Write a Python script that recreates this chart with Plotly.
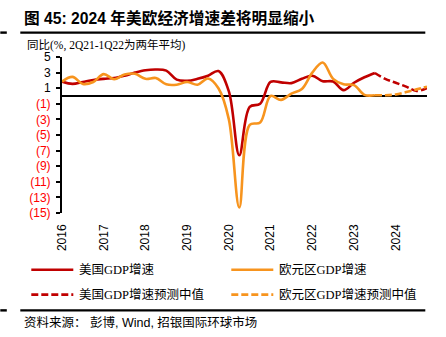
import plotly.graph_objects as go

# Quarterly axis: 2016Q1 ... 2024Q4
quarters = [f"{y}Q{q}" for y in range(2016, 2025) for q in range(1, 5)]
xpos = [int(s[:4]) + (int(s[-1]) - 1) / 4 for s in quarters]

# YoY growth, % (2Q21-1Q22 shown as two-year average)
us_actual = [1.85, 1.55, 1.8, 2.05, 2.2, 2.3, 2.6, 3.0, 3.3, 3.4, 3.25, 2.1,
             1.95, 2.2, 2.6, 3.2, 0.6, -7.6, -1.4, -1.0, 1.8, 1.75, 1.65, 2.2,
             2.6, 1.9, 1.85, 0.75, 1.7, 2.4, 2.95]
ez_actual = [1.85, 2.45, 1.55, 1.8, 2.8, 2.15, 2.75, 2.85, 2.2, 2.3, 1.5, 1.45,
             1.8, 1.45, 2.25, 1.0, -3.0, -14.3, -3.7, -3.4, 0.0, -0.5, 0.3, 0.9,
             3.0, 4.3, 2.2, 1.5, 1.4, 0.15, 0.1]
# Consensus median forecasts, 2023Q3 (last actual) to 2024Q4
us_forecast = [2.95, 2.2, 1.7, 1.2, 0.65, 1.0]
ez_forecast = [0.1, 0.1, 0.2, 0.5, 0.85, 1.2]

y_ticks = [5, 3, 1, -1, -3, -5, -7, -9, -11, -13, -15]
year_ticks = list(range(2016, 2025))

RED = "#C00000"
ORANGE = "#F7941E"

W, H = 446, 337
ML, MR, MT, MB = 61.7, 19.3, 57.3, 124.3
PW, PH = W - ML - MR, H - MT - MB


def fx(px):
    return (px - ML) / PW


def fy(py):
    return (H - MB - py) / PH


n_act = len(us_actual)
fig = go.Figure()
fig.add_trace(go.Scatter(x=xpos[:n_act], y=us_actual, mode="lines",
                         line=dict(color=RED, width=2.6, shape="spline", smoothing=1.0),
                         name="美国GDP增速", showlegend=False))
fig.add_trace(go.Scatter(x=xpos[:n_act], y=ez_actual, mode="lines",
                         line=dict(color=ORANGE, width=2.6, shape="spline", smoothing=1.0),
                         name="欧元区GDP增速", showlegend=False))
fx_x = xpos[n_act - 1:]
fig.add_trace(go.Scatter(x=fx_x, y=us_forecast, mode="lines",
                         line=dict(color=RED, width=2.6, dash="7px,3px", shape="spline", smoothing=1.0),
                         name="美国GDP增速预测中值", showlegend=False))
fig.add_trace(go.Scatter(x=fx_x, y=ez_forecast, mode="lines",
                         line=dict(color=ORANGE, width=2.6, dash="7px,3px", shape="spline", smoothing=1.0),
                         name="欧元区GDP增速预测中值", showlegend=False))


def ylab(v):
    if v < 0:
        return f"<span style='color:#FF0000'>({-v})</span>"
    return str(v)


fig.update_layout(
    width=W, height=H,
    margin=dict(l=ML, r=MR, t=MT, b=MB),
    paper_bgcolor="white", plot_bgcolor="white",
    font=dict(family="Liberation Sans, Arial, Noto Sans CJK SC", size=12, color="black"),
    xaxis=dict(range=[2016, 2024.75], tickvals=year_ticks,
               ticktext=[str(y) for y in year_ticks], tickangle=-90,
               showline=False, ticks="", showgrid=False, zeroline=False,
               ticklabelstandoff=8,
               tickfont=dict(size=12, family="Liberation Sans, Arial")),
    xaxis2=dict(range=[2016, 2024.75], overlaying="x", anchor="free", position=0.75,
                tickvals=year_ticks[1:], ticks="outside", ticklen=4, tickwidth=1.5,
                tickcolor="black", showticklabels=False, showline=False,
                showgrid=False, zeroline=False),
    yaxis=dict(range=[-15, 5], tickvals=y_ticks, ticktext=[ylab(v) for v in y_ticks],
               showline=True, linecolor="black", linewidth=2,
               ticks="outside", ticklen=4, tickwidth=1.5, tickcolor="black",
               showgrid=False, zeroline=True, zerolinecolor="black", zerolinewidth=2,
               ticklabelstandoff=3,
               tickfont=dict(size=12, family="Liberation Sans, Arial")),
)

shapes = []
# rules above and below the chart
for yy in (33, 309.7):
    shapes.append(dict(type="line", xref="paper", yref="paper",
                       x0=fx(20), x1=fx(425), y0=fy(yy), y1=fy(yy),
                       line=dict(color="black", width=2.4)))
    shapes.append(dict(type="line", xref="paper", yref="paper",
                       x0=fx(0), x1=fx(6.5), y0=fy(yy), y1=fy(yy),
                       line=dict(color="black", width=2.4)))

# legend keys
legend_items = [
    (31, 269.3, RED, "solid", "美国GDP增速"),
    (231, 269.3, ORANGE, "solid", "欧元区GDP增速"),
    (31, 294, RED, "7px,3px", "美国GDP增速预测中值"),
    (231, 294, ORANGE, "7px,3px", "欧元区GDP增速预测中值"),
]
annotations = []
for x0, yy, col, dash, label in legend_items:
    shapes.append(dict(type="line", xref="paper", yref="paper",
                       x0=fx(x0), x1=fx(x0 + 42), y0=fy(yy), y1=fy(yy),
                       line=dict(color=col, width=2.6, dash=dash)))
    annotations.append(dict(xref="paper", yref="paper", x=fx(x0 + 46), y=fy(yy),
                            xanchor="left", yanchor="middle", showarrow=False,
                            text=label,
                            font=dict(family="Liberation Serif, Noto Sans CJK SC", size=12.5, color="black")))

annotations.append(dict(xref="paper", yref="paper", x=fx(22), y=fy(18.8),
                        xanchor="left", yanchor="middle", showarrow=False,
                        text="<b>图 45: 2024 年美欧经济增速差将明显缩小</b>",
                        font=dict(family="Liberation Sans, Noto Sans CJK SC", size=15.7, color="black")))
annotations.append(dict(xref="paper", yref="paper", x=fx(25), y=fy(45.3),
                        xanchor="left", yanchor="middle", showarrow=False,
                        text="同比(%, 2Q21-1Q22为两年平均)",
                        font=dict(family="Liberation Serif, Noto Sans CJK SC", size=11.5, color="black")))
annotations.append(dict(xref="paper", yref="paper", x=fx(22), y=fy(321.7),
                        xanchor="left", yanchor="middle", showarrow=False,
                        text="资料来源： 彭博, Wind, 招银国际环球市场",
                        font=dict(family="Liberation Sans, Noto Sans CJK SC", size=12.5, color="black")))

fig.update_layout(shapes=shapes, annotations=annotations)
fig.write_html("out.html")
